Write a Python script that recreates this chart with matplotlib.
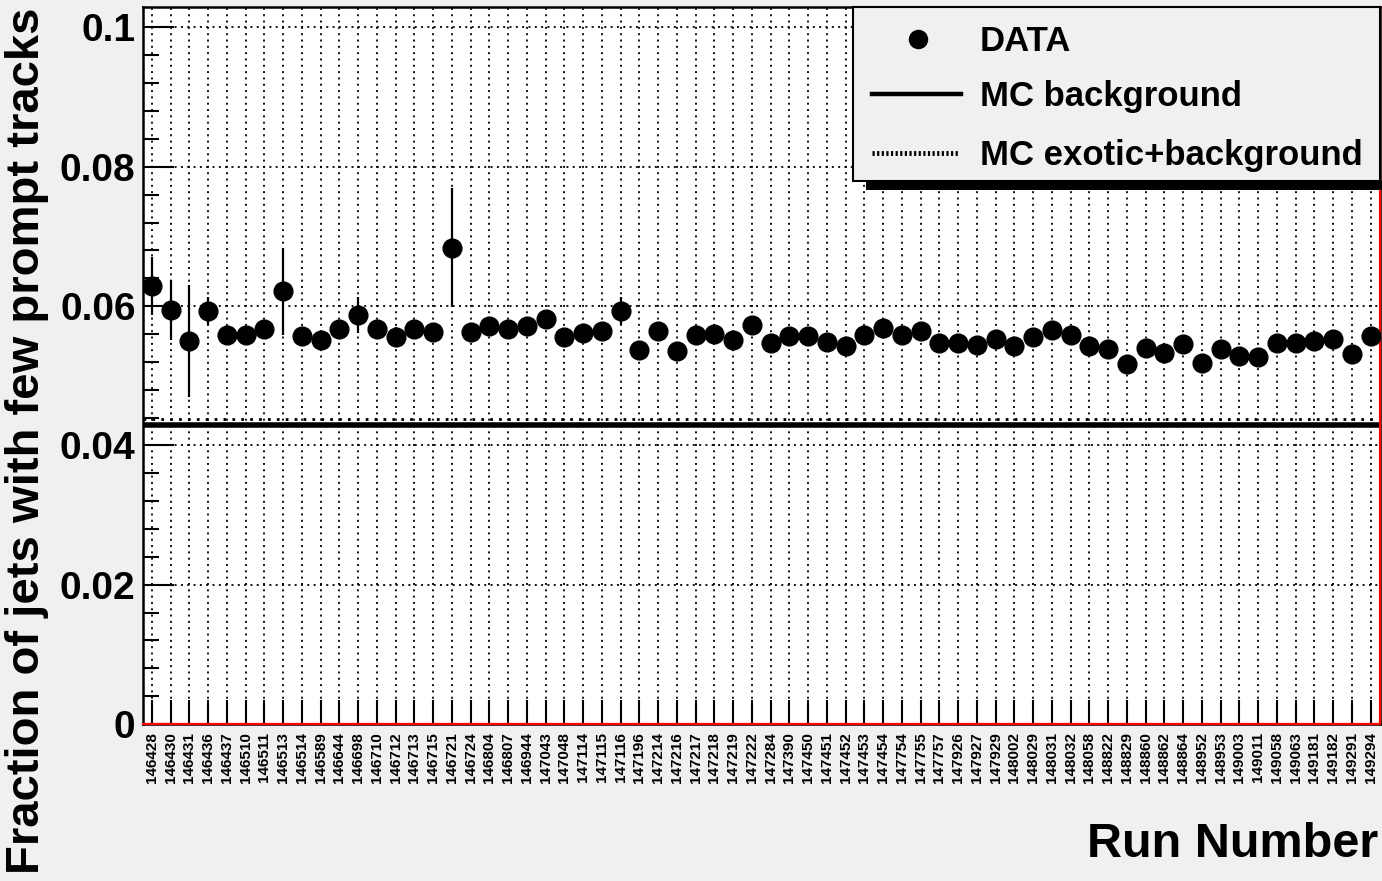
import numpy as np
import matplotlib.pyplot as plt
from matplotlib.patches import Rectangle
from matplotlib.lines import Line2D
from matplotlib.ticker import MultipleLocator

plt.rcParams['font.family'] = ['Liberation Sans', 'DejaVu Sans']
plt.rcParams['font.weight'] = 'bold'

# run numbers (x categories)
runs = ['146428', '146430', '146431', '146436', '146437', '146510', '146511', '146513',
        '146514', '146589', '146644', '146698', '146710', '146712', '146713', '146715',
        '146721', '146724', '146804', '146807', '146944', '147043', '147048', '147114',
        '147115', '147116', '147196', '147214', '147216', '147217', '147218', '147219',
        '147222', '147284', '147390', '147450', '147451', '147452', '147453', '147454',
        '147754', '147755', '147757', '147926', '147927', '147929', '148002', '148029',
        '148031', '148032', '148058', '148822', '148829', '148860', '148862', '148864',
        '148952', '148953', '149003', '149011', '149058', '149063', '149181', '149182',
        '149291', '149294']

# fraction of jets with few prompt tracks (DATA)
frac = [0.0629, 0.0594, 0.0550, 0.0593, 0.0558, 0.0558, 0.0567, 0.0621,
        0.0557, 0.0551, 0.0567, 0.0587, 0.0567, 0.0556, 0.0567, 0.0563,
        0.0684, 0.0563, 0.0571, 0.0567, 0.0572, 0.0581, 0.0555, 0.0561,
        0.0564, 0.0593, 0.0537, 0.0564, 0.0535, 0.0558, 0.0560, 0.0551,
        0.0573, 0.0547, 0.0557, 0.0557, 0.0548, 0.0543, 0.0559, 0.0568,
        0.0558, 0.0564, 0.0547, 0.0547, 0.0544, 0.0553, 0.0542, 0.0555,
        0.0565, 0.0558, 0.0543, 0.0539, 0.0517, 0.0540, 0.0533, 0.0546,
        0.0519, 0.0538, 0.0529, 0.0527, 0.0547, 0.0547, 0.0550, 0.0553,
        0.0531, 0.0557]

frac_err = [0.0042, 0.0043, 0.0081, 0.0020, 0.0013, 0.0012, 0.0010, 0.0062,
            0.0010, 0.0012, 0.0010, 0.0026, 0.0012, 0.0014, 0.0010, 0.0010,
            0.0086, 0.0010, 0.0010, 0.0010, 0.0010, 0.0012, 0.0010, 0.0010,
            0.0010, 0.0020, 0.0012, 0.0010, 0.0012, 0.0010, 0.0010, 0.0010,
            0.0010, 0.0010, 0.0010, 0.0010, 0.0010, 0.0010, 0.0010, 0.0010,
            0.0010, 0.0010, 0.0010, 0.0010, 0.0010, 0.0010, 0.0010, 0.0010,
            0.0010, 0.0010, 0.0010, 0.0010, 0.0010, 0.0010, 0.0010, 0.0010,
            0.0010, 0.0010, 0.0010, 0.0010, 0.0010, 0.0010, 0.0010, 0.0010,
            0.0010, 0.0010]

mc_background = 0.0430
mc_exotic = 0.0438

W, H = 1382, 881
bg = '#f0f0f0'

fig = plt.figure(figsize=(W / 100, H / 100), dpi=100, facecolor=bg)
ax = fig.add_axes([142.5 / W, 1 - 724 / H, (1380 - 142.5) / W, (724 - 7.3) / H])

n = len(runs)
x = np.arange(n) + 0.5
ax.set_xlim(0, n)
ax.set_ylim(0, 0.1029)

# grid
dot = (0, (1.1, 2.4))
ax.set_xticks(x)
ax.set_xticklabels(runs, rotation=90, fontsize=11, fontweight='bold')
ax.set_yticks([0, 0.02, 0.04, 0.06, 0.08, 0.1])
ax.set_yticklabels(['0', '0.02', '0.04', '0.06', '0.08', '0.1'], fontsize=28, fontweight='bold')
ax.yaxis.set_minor_locator(MultipleLocator(0.004))
ax.grid(True, which='major', color='black', linestyle=dot, linewidth=1.3)
ax.set_axisbelow(True)

ax.tick_params(axis='x', direction='in', length=17, width=1.5, pad=6)
ax.tick_params(axis='y', which='major', direction='in', length=22, width=1.5, pad=5)
ax.tick_params(axis='y', which='minor', direction='in', length=11.5, width=1.5)
for s in ax.spines.values():
    s.set_linewidth(1.8)

# MC lines
ax.axhline(mc_exotic, color='black', linestyle=(0, (1.0, 2.2)), linewidth=2.0, zorder=2)
ax.axhline(mc_background, color='black', linewidth=4.0, zorder=3)

# red empty histogram outline
ax.plot([0, n, n], [0, 0, 0.1029], color='red', linewidth=1.6, clip_on=False, zorder=4)

# data
ax.errorbar(x, frac, yerr=frac_err, fmt='o', color='black', ms=13.5,
            elinewidth=1.6, capsize=0, zorder=5)

# axis titles
fig.text(27 / W, 1 - 8 / H, 'Fraction of jets with few prompt tracks', rotation=90,
         ha='center', va='top', fontsize=34, fontweight='bold')
fig.text(1378 / W, 1 - 857 / H, 'Run Number', ha='right', va='baseline',
         fontsize=35, fontweight='bold')

# legend box with shadow
def fx(px):
    return px / W

def fy(py):
    return 1 - py / H

fig.add_artist(Rectangle((fx(866), fy(190)), fx(1382 - 866), (190 - 181) / H,
                         transform=fig.transFigure, facecolor='black', edgecolor='none', zorder=9))
fig.add_artist(Rectangle((fx(853), fy(181)), fx(1380 - 853), (181 - 7) / H,
                         transform=fig.transFigure, facecolor=bg, edgecolor='black',
                         linewidth=1.5, zorder=10))
fig.add_artist(Line2D([fx(918)], [fy(39)], marker='o', ms=13, color='black',
                      transform=fig.transFigure, zorder=11))
fig.add_artist(Line2D([fx(872), fx(961)], [fy(94), fy(94)], color='black', linewidth=3.2,
                      transform=fig.transFigure, zorder=11))
fig.add_artist(Line2D([fx(872), fx(958)], [fy(153), fy(153)], color='black', linewidth=3.5,
                      linestyle=(0, (0.45, 0.5)), transform=fig.transFigure, zorder=11))
labels = ['DATA', 'MC background', 'MC exotic+background']
for lab, yb in zip(labels, [51, 106, 165]):
    fig.text(fx(980), fy(yb), lab, ha='left', va='baseline', fontsize=25,
             fontweight='bold', zorder=11)

fig.savefig('out.png', dpi=100, facecolor=bg)
